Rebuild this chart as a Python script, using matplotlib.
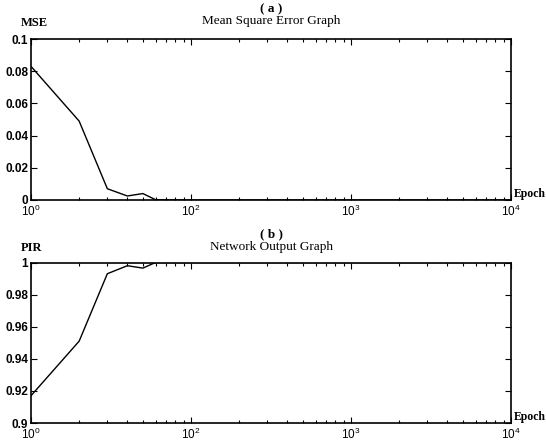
import matplotlib
matplotlib.use("Agg")
import matplotlib.pyplot as plt
from matplotlib.ticker import FixedLocator, NullFormatter, LogLocator

plt.rcParams['mathtext.fontset'] = 'custom'
plt.rcParams['mathtext.rm'] = 'Liberation Sans'
plt.rcParams['mathtext.it'] = 'Liberation Sans'
plt.rcParams['mathtext.bf'] = 'Liberation Sans:bold'

epochs = [10, 20, 30, 40, 50, 60, 100, 1000, 10000]
mse = [0.083, 0.049, 0.007, 0.0025, 0.004, 0.0002, 0.0, 0.0, 0.0]
pir = [0.917, 0.951, 0.993, 0.998, 0.9965, 1.0, 1.0, 1.0, 1.0]

xtick_pos = [10, 100, 1000, 10000]
xtick_labels = [r'$10^0$', r'$10^2$', r'$10^3$', r'$10^4$']

mse_ticks = [0, 0.02, 0.04, 0.06, 0.08, 0.1]
mse_labels = ['0', '0.02', '0.04', '0.06', '0.08', '0.1']
pir_ticks = [0.9, 0.92, 0.94, 0.96, 0.98, 1.0]
pir_labels = ['0.9', '0.92', '0.94', '0.96', '0.98', '1']

fig = plt.figure(figsize=(5.46, 4.41), dpi=100)

W, H = 546, 441
def rect(l, t, r, b):
    return [l / W, 1 - b / H, (r - l) / W, (b - t) / H]

ax1 = fig.add_axes(rect(31, 39, 511, 200))
ax2 = fig.add_axes(rect(31, 262.5, 511, 423))

tickfont = dict(family='Liberation Sans', size=8.5, weight='bold')

def style(ax, yt, yl, ylim, ylabel, title, letter, x, y, dy):
    ax.plot(x, y, color='black', lw=1.0)
    ax.set_xscale('log')
    ax.set_xlim(10, 10000)
    ax.set_ylim(*ylim)
    ax.xaxis.set_major_locator(FixedLocator(xtick_pos))
    ax.set_xticklabels(xtick_labels, fontdict=tickfont)
    ax.xaxis.set_minor_locator(LogLocator(base=10, subs=range(2, 10)))
    ax.xaxis.set_minor_formatter(NullFormatter())
    ax.set_yticks(yt)
    ax.set_yticklabels(yl, fontdict=tickfont)
    ax.tick_params(which='both', direction='in', top=True, right=True, width=0.8, pad=2)
    ax.tick_params(axis='x', which='both', pad=3)
    ax.tick_params(which='major', length=4)
    ax.tick_params(which='minor', length=2.5)
    for s in ax.spines.values():
        s.set_linewidth(1.2)
    ax.text(-0.022, 1.062 + dy, ylabel, transform=ax.transAxes, ha='left', va='bottom',
            fontfamily='Liberation Serif', fontweight='bold', fontsize=9)
    ax.text(1.005, 0.0, 'Epoch', transform=ax.transAxes, ha='left', va='bottom',
            fontfamily='Liberation Serif', fontweight='bold', fontsize=8.5)
    ax.text(0.5, 1.148 + dy, letter, transform=ax.transAxes, ha='center', va='bottom',
            fontfamily='Liberation Serif', fontweight='bold', fontsize=9.5)
    ax.text(0.5, 1.072 + dy, title, transform=ax.transAxes, ha='center', va='bottom',
            fontfamily='Liberation Serif', fontsize=9.5)

style(ax1, mse_ticks, mse_labels, (0, 0.1), 'MSE', 'Mean Square Error Graph', '( a )', epochs, mse, 0.0)
style(ax2, pir_ticks, pir_labels, (0.9, 1.0), 'PIR', 'Network Output Graph', '( b )', epochs, pir, -0.01)

fig.savefig('out.png', dpi=100)
